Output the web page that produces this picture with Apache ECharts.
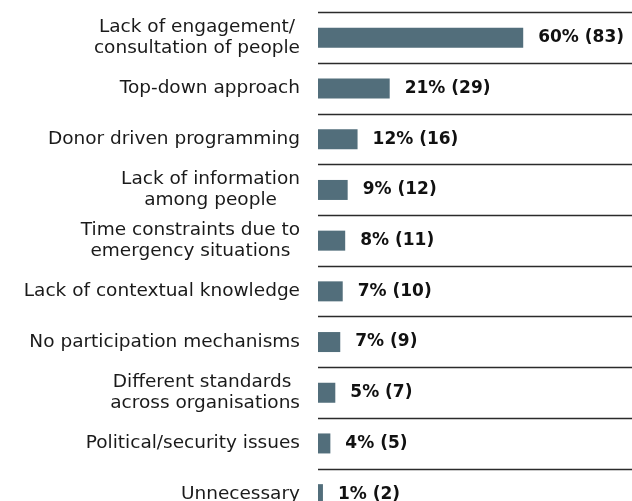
<!DOCTYPE html>
<html>
<head>
<meta charset="utf-8">
<script src="https://cdn.jsdelivr.net/npm/echarts@6/dist/echarts.min.js"></script>
<style>
html,body{margin:0;padding:0;background:#fff;}
#mycharts{width:632px;height:501px;}
</style>
</head>
<body>
<div id="mycharts"></div>
<script>
// categories top to bottom
const categories = [
  'Lack of engagement/\nconsultation of people',
  'Top-down approach',
  'Donor driven programming',
  'Lack of information\namong people',
  'Time constraints due to\nemergency situations',
  'Lack of contextual knowledge',
  'No participation mechanisms',
  'Different standards \nacross organisations',
  'Political/security issues',
  'Unnecessary'
];
const counts = [83, 29, 16, 12, 11, 10, 9, 7, 5, 2];
const percents = [60, 21, 12, 9, 8, 7, 7, 5, 4, 1];

const FONT = 'DejaVu Sans';
const mCharts = echarts.init(document.getElementById('mycharts'));
const option = {
  animation: false,
  grid: {
    left: 318,
    right: 0,
    top: 12.5,
    height: 507,
    outerBoundsMode: 'none'
  },
  xAxis: {
    type: 'value',
    min: 0,
    max: 127,
    show: false
  },
  yAxis: {
    type: 'category',
    inverse: true,
    data: categories,
    axisLine: {show: false},
    axisTick: {show: false},
    splitLine: {show: true, lineStyle: {color: '#2b2b2b', width: 1.4}},
    axisLabel: {
      margin: 18,
      color: '#1a1a1a',
      fontFamily: FONT,
      fontSize: 18.5,
      lineHeight: 21,
      formatter: function (val) {
        // each line centred inside the right-aligned block
        return val.split('\n').map(function (l) { return '{c|' + l + '}'; }).join('\n');
      },
      rich: {
        c: {align: 'center', fontFamily: FONT, fontSize: 18.5, lineHeight: 21, color: '#1a1a1a'}
      }
    }
  },
  series: [{
    type: 'bar',
    data: counts,
    barWidth: 20,
    itemStyle: {color: '#526e7b'},
    label: {
      show: true,
      position: 'right',
      distance: 15,
      color: '#111',
      fontFamily: FONT,
      fontWeight: 'bold',
      fontSize: 17,
      formatter: function (p) {
        return percents[p.dataIndex] + '% (' + counts[p.dataIndex] + ')';
      }
    }
  }]
};
mCharts.setOption(option);
</script>
</body>
</html>
